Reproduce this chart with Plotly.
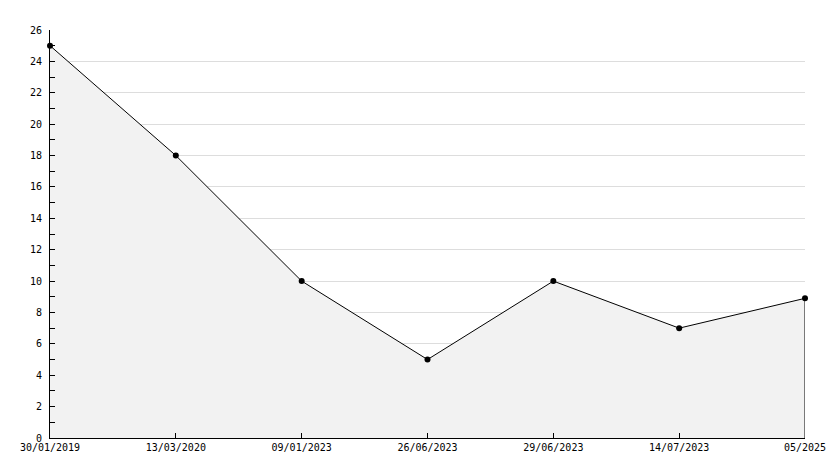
import plotly.graph_objects as go

dates = ["30/01/2019", "13/03/2020", "09/01/2023", "26/06/2023", "29/06/2023", "14/07/2023", "05/2025"]
values = [25, 18, 10, 5, 10, 7, 8.9]
y_ticks = list(range(0, 27, 2))

xs = list(range(len(dates)))

fig = go.Figure()
fig.add_trace(go.Scatter(
    x=xs, y=values, mode="lines+markers",
    fill="tozeroy", fillcolor="#f2f2f2",
    line=dict(color="black", width=1),
    marker=dict(color="black", size=6, symbol="circle"),
    cliponaxis=False, showlegend=False, hoverinfo="skip",
))
# right edge of the filled area
fig.add_trace(go.Scatter(
    x=[xs[-1], xs[-1]], y=[0, values[-1]], mode="lines",
    line=dict(color="black", width=1), showlegend=False, hoverinfo="skip",
    cliponaxis=False,
))

fig.update_layout(
    width=834, height=468,
    margin=dict(l=42, r=37, t=22, b=38),
    paper_bgcolor="white", plot_bgcolor="white",
    font=dict(family="DejaVu Sans Mono", size=10, color="black"),
    xaxis=dict(
        range=[0, len(dates) - 1], tickvals=xs, ticktext=dates,
        showgrid=False, zeroline=False, showline=True, linecolor="black", linewidth=1,
        ticks="inside", ticklen=5, tickcolor="black", tickangle=0,
    ),
    yaxis=dict(
        range=[0, 26], tickvals=y_ticks, showgrid=True, gridcolor="#dddddd", gridwidth=1,
        zeroline=False, showline=True, linecolor="black", linewidth=1,
        ticks="inside", ticklen=5, tickcolor="black", ticklabelstandoff=5,
        minor=dict(dtick=1, ticks="inside", ticklen=5, tickcolor="black", showgrid=False),
    ),
)

fig.write_html("out.html")
